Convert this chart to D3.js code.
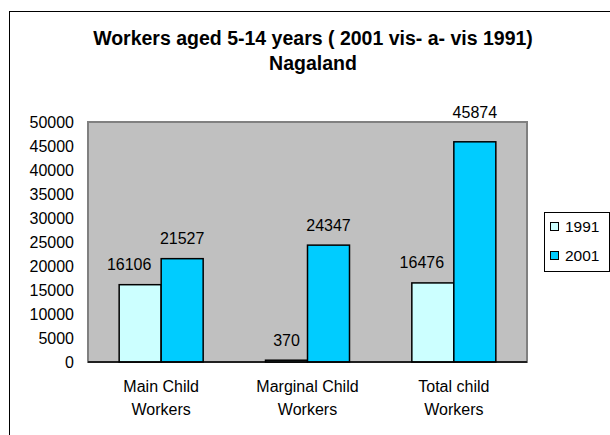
<!DOCTYPE html>
<html><head><meta charset="utf-8">
<script src="https://cdn.jsdelivr.net/npm/d3@7"></script>
<style>body{margin:0;background:#fff}svg{display:block}text{font-family:"Liberation Sans",Arial,sans-serif}</style>
</head><body>
<svg id="c" width="610" height="435"></svg>
<script>
const categories = [["Main Child","Workers"],["Marginal Child","Workers"],["Total child","Workers"]];
const seriesNames = ["1991","2001"];
const values1991 = [16106, 370, 16476];
const values2001 = [21527, 24347, 45874];
const yTicks = [0,5000,10000,15000,20000,25000,30000,35000,40000,45000,50000];
const titleLines = ["Workers aged 5-14 years ( 2001 vis- a- vis 1991)","Nagaland"];
const colors = ["#CCFFFF","#00CCFF"];

const svg = d3.select("#c");
// outer chart frame
svg.append("rect").attr("x",9.5).attr("y",11.5).attr("width",640).attr("height",500)
  .attr("fill","#fff").attr("stroke","#000").attr("stroke-width",1);

const L=88, R=527, T=122, B=362;
const x0 = d3.scaleBand().domain(d3.range(categories.length)).range([L,R]).paddingInner(0).paddingOuter(0);
const x1 = d3.scaleBand().domain(seriesNames).range([0,84]);
const y = d3.scaleLinear().domain([0,50000]).range([B,T]);

svg.append("rect").attr("x",L).attr("y",T).attr("width",R-L).attr("height",B-T)
  .attr("fill","#C0C0C0").attr("stroke","#808080").attr("stroke-width",2);

// y axis
const ya = svg.append("g").attr("transform",`translate(${L},0)`)
  .call(d3.axisLeft(y).tickValues(yTicks).tickSize(0).tickPadding(14).tickFormat(d3.format("d")));
ya.select(".domain").attr("stroke","#808080").attr("stroke-width",1);
ya.selectAll("text").attr("font-size",16).attr("fill","#000").attr("font-family","Liberation Sans, Arial, sans-serif");

const series = [values1991, values2001];
const g = svg.append("g");
categories.forEach((c,i)=>{
  const cx = x0(i) + x0.bandwidth()/2 - 42;
  series.forEach((vals,s)=>{
    const bx = cx + x1(seriesNames[s]);
    g.append("rect").attr("x",bx).attr("y",y(vals[i])).attr("width",x1.bandwidth())
      .attr("height",B-y(vals[i])).attr("fill",colors[s]).attr("stroke","#000").attr("stroke-width",1.5);
    let ly = y(vals[i]) - 14.5;
    if (ly - 12 < T) ly = T - 4;   // keep label clear of the plot-area top edge
    const t = g.append("text").attr("x",bx+x1.bandwidth()/2).attr("y",ly)
      .attr("text-anchor","middle").attr("font-size",16).text(vals[i]);
    if (s===0) {
      const w = t.node().getComputedTextLength();
      if (w > x1.bandwidth()) t.attr("x", bx + x1.bandwidth()/2 - 11);
    }
  });
});

// x axis
svg.append("line").attr("x1",L).attr("x2",R).attr("y1",B).attr("y2",B).attr("stroke","#000").attr("stroke-width",1.5);
categories.forEach((c,i)=>{
  const t = svg.append("text").attr("text-anchor","middle").attr("font-size",16)
    .attr("x",x0(i)+x0.bandwidth()/2).attr("y",392);
  c.forEach((line,k)=>t.append("tspan").attr("x",x0(i)+x0.bandwidth()/2).attr("dy",k?22.5:0).text(line));
});

// title
svg.append("text").attr("x",313).attr("y",45).attr("text-anchor","middle").attr("font-size",19.5)
  .attr("font-weight","bold").text(titleLines[0]);
svg.append("text").attr("x",313).attr("y",70).attr("text-anchor","middle").attr("font-size",19.5)
  .attr("font-weight","bold").text(titleLines[1]);

// legend
const lg = svg.append("g");
lg.append("rect").attr("x",544.5).attr("y",212.5).attr("width",65).attr("height",59).attr("fill","#fff").attr("stroke","#000");
seriesNames.forEach((n,s)=>{
  const yy = 222 + s*29;
  lg.append("rect").attr("x",550.5).attr("y",yy+0.5).attr("width",8).attr("height",8).attr("fill",colors[s]).attr("stroke","#000");
  lg.append("text").attr("x",565).attr("y",yy+9.5).attr("font-size",15.5).text(n);
});
</script>
</body></html>
